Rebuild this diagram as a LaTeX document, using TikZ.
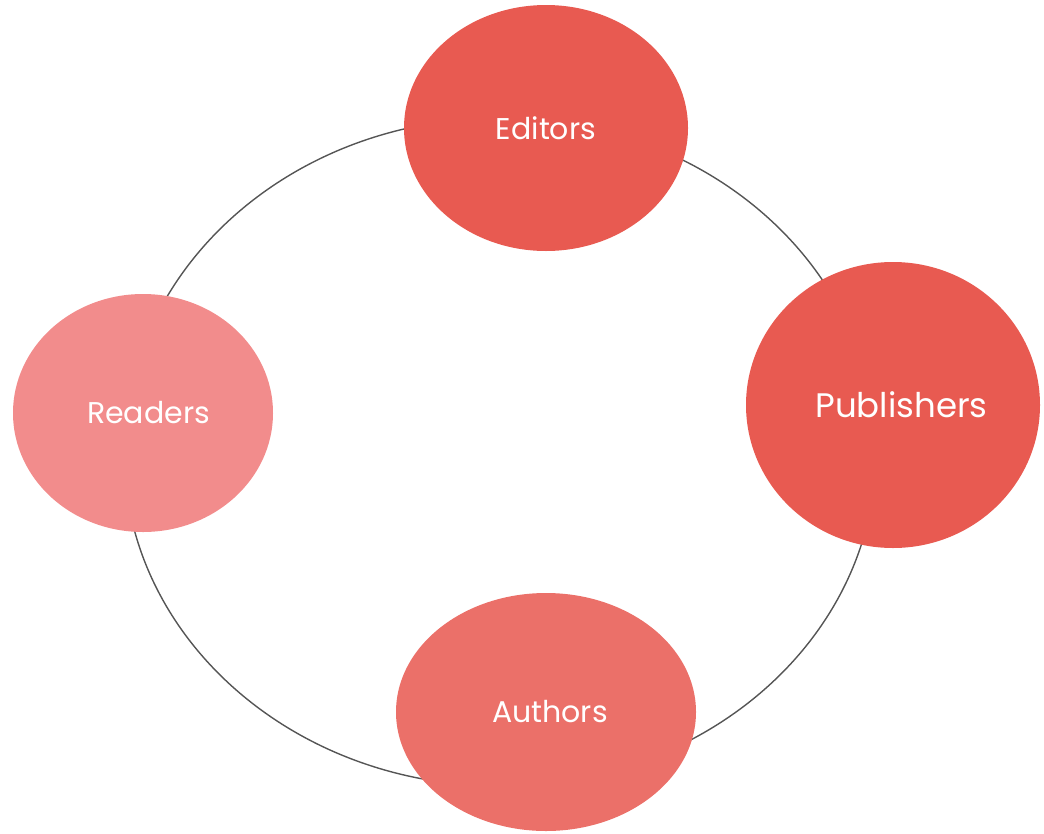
\documentclass[tikz,border=0pt]{standalone}
\usepackage{fontspec}
\setmainfont{Poppins}
\usetikzlibrary{shapes.geometric}
\definecolor{coral-dark}{HTML}{E85A51}
\definecolor{coral-mid}{HTML}{EB7069}
\definecolor{coral-light}{HTML}{F28C8C}
\definecolor{ring-grey}{HTML}{555555}
\tikzset{
    role-bubble/.style = {ellipse, inner sep=0pt, draw=none, text=white, font=\fontsize{30}{36}\selectfont},
    cycle-ring/.style = {draw=ring-grey, line width=1.4pt},
}

\begin{document}
\begin{tikzpicture}[x=1pt, y=-1pt]
\useasboundingbox (0,0) rectangle (1044,833);
\node[cycle-ring, ellipse, minimum width=752pt, minimum height=668pt] (ring) at (500,452) {};
\node[role-bubble, fill=coral-dark, minimum width=284pt, minimum height=246pt] (editors) at (546,128) {Editors\hspace{8pt}};
\node[role-bubble, fill=coral-dark, minimum width=294pt, minimum height=286pt, font=\fontsize{34}{40}\selectfont] (publishers) at (893,405) {\hspace{17pt}Publishers};
\node[role-bubble, fill=coral-light, minimum width=260pt, minimum height=238pt] (readers) at (143,413) {\hspace{11pt}Readers};
\node[role-bubble, fill=coral-mid, minimum width=300pt, minimum height=238pt] (authors) at (546,712) {\hspace{8pt}Authors};
\end{tikzpicture}
\end{document}
